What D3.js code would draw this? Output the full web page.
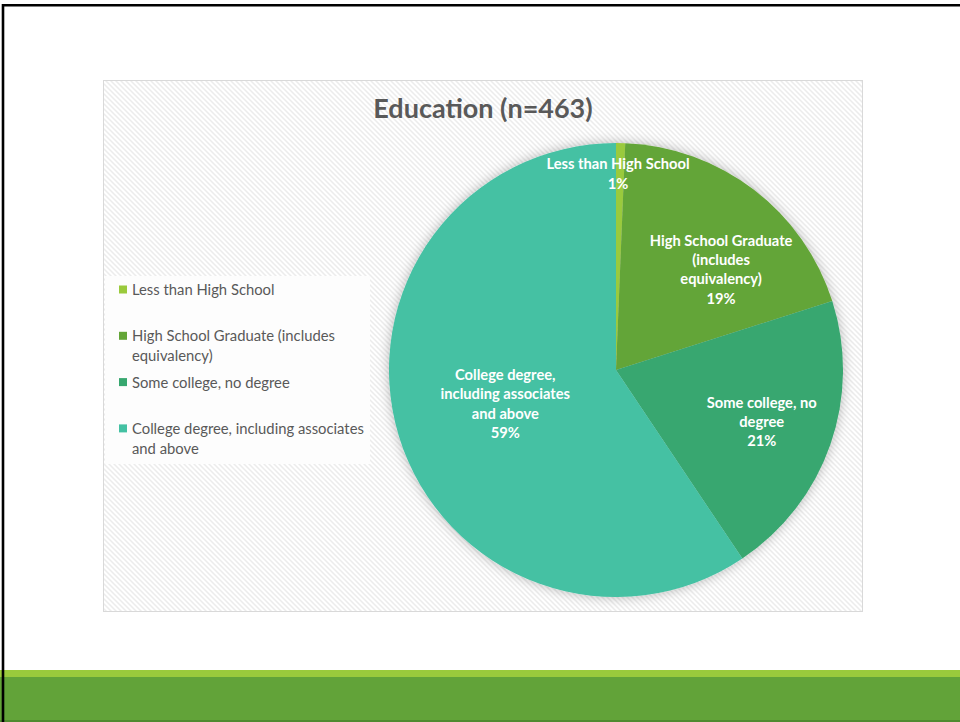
<!DOCTYPE html>
<html>
<head>
<meta charset="utf-8">
<script src="https://cdn.jsdelivr.net/npm/d3@7/dist/d3.min.js"></script>
<style>
  html, body { margin: 0; padding: 0; background: #fff; }
  svg { display: block; }
  text { font-family: Lato, "Open Sans", sans-serif; }
</style>
</head>
<body>
<svg id="slide" width="960" height="722"></svg>
<script>
// Survey responses by education level (n = 463)
const chartTitle = "Education (n=463)";
const categories = [
  "Less than High School",
  "High School Graduate (includes equivalency)",
  "Some college, no degree",
  "College degree, including associates and above"
];
const counts = [3, 90, 95, 275];
const sliceColors = ["#9ACA3C", "#63A537", "#37A76F", "#44C1A3"];
// Line breaks used inside the slice labels
const sliceLabelLines = [
  ["Less than High School"],
  ["High School Graduate", "(includes", "equivalency)"],
  ["Some college, no", "degree"],
  ["College degree,", "including associates", "and above"]
];

const svg = d3.select("#slide");
const W = 960, H = 722;

// ---- slide frame and footer bands ----
svg.append("rect").attr("width", W).attr("height", H).attr("fill", "#fff");
svg.append("rect").attr("x", 0).attr("y", 670).attr("width", W).attr("height", 7).attr("fill", "#9ACA3C");
svg.append("rect").attr("x", 0).attr("y", 677).attr("width", W).attr("height", 43).attr("fill", "#62A339");
svg.append("rect").attr("x", 0).attr("y", 720).attr("width", W).attr("height", 2).attr("fill", "#4F8B30");
svg.append("path")
  .attr("d", "M3,722 V5.3 H960")
  .attr("fill", "none").attr("stroke", "#000").attr("stroke-width", 2.6);

// ---- chart area with diagonal hatch ----
const defs = svg.append("defs");
const pat = defs.append("pattern")
  .attr("id", "hatch").attr("patternUnits", "userSpaceOnUse")
  .attr("width", 5).attr("height", 5);
pat.append("rect").attr("width", 5).attr("height", 5).attr("fill", "#fff");
pat.append("path")
  .attr("d", "M-1,-1 L6,6 M-1,4 L1,6 M4,-1 L6,1")
  .attr("stroke", "#ECECEC").attr("stroke-width", 1.5);

const shadow = defs.append("filter").attr("id", "glow")
  .attr("x", "-20%").attr("y", "-20%").attr("width", "140%").attr("height", "140%");
shadow.append("feGaussianBlur").attr("in", "SourceAlpha").attr("stdDeviation", 6).attr("result", "blur");
shadow.append("feFlood").attr("flood-color", "#000").attr("flood-opacity", 0.28);
shadow.append("feComposite").attr("in2", "blur").attr("operator", "in").attr("result", "shade");
const merge = shadow.append("feMerge");
merge.append("feMergeNode").attr("in", "shade");
merge.append("feMergeNode").attr("in", "SourceGraphic");

const area = { x: 103.5, y: 80.5, w: 759, h: 531 };
svg.append("rect")
  .attr("x", area.x).attr("y", area.y).attr("width", area.w).attr("height", area.h)
  .attr("fill", "url(#hatch)").attr("stroke", "#D9D9D9").attr("stroke-width", 1);

// ---- title ----
svg.append("text")
  .attr("x", 483).attr("y", 118)
  .attr("text-anchor", "middle")
  .attr("font-size", 27).attr("font-weight", 700)
  .attr("fill", "#595959")
  .text(chartTitle);

// ---- pie ----
const cx = 616, cy = 370, R = 227;
const total = d3.sum(counts);
const pie = d3.pie().sort(null).value(d => d)(counts);
const arc = d3.arc().innerRadius(0).outerRadius(R);
const color = d3.scaleOrdinal().domain(categories).range(sliceColors);

const pieG = svg.append("g").attr("transform", `translate(${cx},${cy})`);
pieG.append("g").attr("filter", "url(#glow)")
  .selectAll("path").data(pie).join("path")
  .attr("d", arc)
  .attr("fill", (d, i) => color(categories[i]));

// label placement: radius fraction along the mid-angle plus a small nudge
const labelPlacement = [
  { f: 0.865, dx: -2, dy: 0 },
  { f: 0.64, dx: 17, dy: 15 },
  { f: 0.68, dx: 0, dy: 1 },
  { f: 0.51, dx: 0, dy: 0 }
];
const lineH = 19.4;
pie.forEach((d, i) => {
  const p = labelPlacement[i];
  const c = d3.arc().innerRadius(R * p.f).outerRadius(R * p.f).centroid(d);
  const lines = sliceLabelLines[i].concat([Math.round(d.value / total * 100) + "%"]);
  const n = lines.length;
  const t = pieG.append("text")
    .attr("text-anchor", "middle")
    .attr("font-size", 14.7).attr("font-weight", 700)
    .attr("fill", "#fff");
  lines.forEach((s, k) => {
    t.append("tspan")
      .attr("x", c[0] + p.dx)
      .attr("y", c[1] + p.dy + (k - (n - 1) / 2) * lineH)
      .attr("dy", "0.35em")
      .text(s);
  });
});

// ---- legend ----
svg.append("rect")
  .attr("x", 105).attr("y", 276).attr("width", 265).attr("height", 188)
  .attr("fill", "#FDFDFD");
const legend = svg.append("g");
const slot = 46.3, legendTop = 290, maxW = 240;
categories.forEach((cat, i) => {
  const y0 = legendTop + i * slot;
  legend.append("rect")
    .attr("x", 119).attr("y", y0 - 4.5).attr("width", 8).attr("height", 8)
    .attr("fill", color(cat));
  const t = legend.append("text")
    .attr("font-size", 14.8).attr("fill", "#595959");
  // wrap words into lines no wider than maxW
  const words = cat.split(" ");
  let line = [], k = 0;
  let ts = t.append("tspan").attr("x", 132).attr("y", y0).attr("dy", "0.35em");
  words.forEach(w => {
    line.push(w);
    ts.text(line.join(" "));
    if (ts.node().getComputedTextLength() > maxW && line.length > 1) {
      line.pop();
      ts.text(line.join(" "));
      line = [w];
      k += 1;
      ts = t.append("tspan").attr("x", 132).attr("y", y0 + k * 19.5).attr("dy", "0.35em").text(w);
    }
  });
});
</script>
</body>
</html>
